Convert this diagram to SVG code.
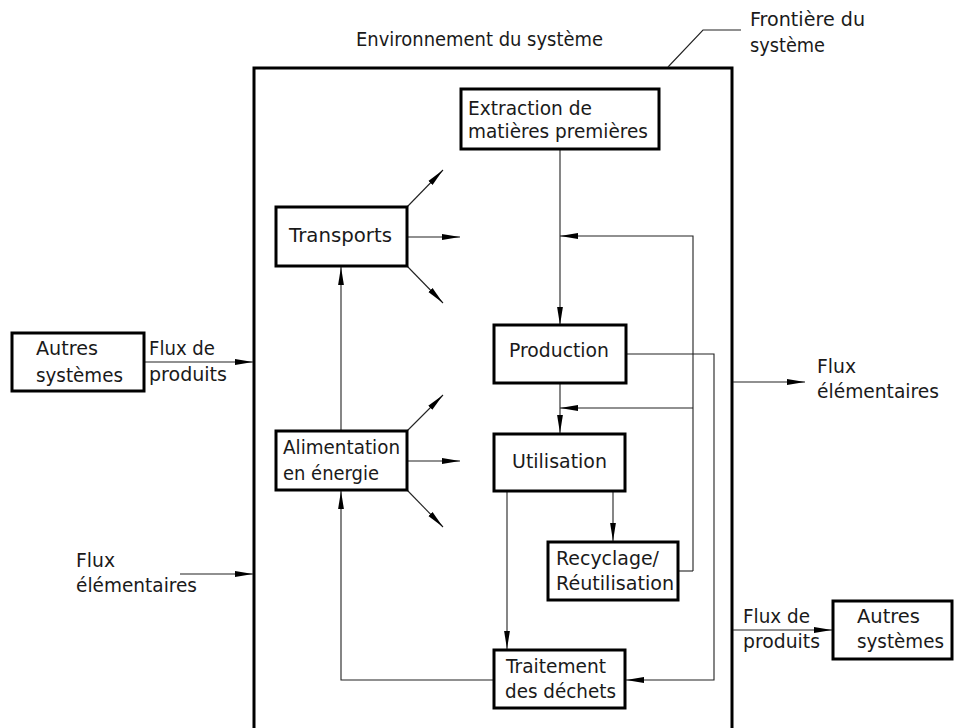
<svg xmlns="http://www.w3.org/2000/svg" width="954" height="728" viewBox="0 0 954 728">
<defs>
<marker id="ah" markerUnits="userSpaceOnUse" markerWidth="18" markerHeight="7" refX="18" refY="3.5" orient="auto">
<path d="M0,0.6 L18,3.5 L0,6.4 z" fill="#000"/>
</marker>
<style>
text{font-family:"DejaVu Sans","Liberation Sans",sans-serif;font-size:20px;fill:#1a1a1a}
.box{fill:#fff;stroke:#000;stroke-width:3}
.ln{fill:none;stroke:#222;stroke-width:1.1}
.ar{fill:none;stroke:#222;stroke-width:1.1;marker-end:url(#ah)}
</style>
</defs>
<rect width="954" height="728" fill="#fff"/>

<g id="boundary">
<rect x="254" y="68" width="478" height="680" fill="none" stroke="#000" stroke-width="3"/>
<polyline class="ln" points="668,67 703,30 741,30"/>
<text x="750" y="26" textLength="115" lengthAdjust="spacingAndGlyphs">Frontière du</text>
<text x="750" y="52" textLength="75" lengthAdjust="spacingAndGlyphs">système</text>
<text x="356" y="46" textLength="247" lengthAdjust="spacingAndGlyphs">Environnement du système</text>
</g>

<g id="connectors">
<line class="ar" x1="560" y1="149" x2="560" y2="325"/>
<polyline class="ar" points="693,571 693,236 560,236"/>
<line class="ar" x1="693" y1="408" x2="560" y2="408"/>
<line class="ar" x1="560" y1="383" x2="560" y2="433"/>
<line class="ar" x1="613" y1="491" x2="613" y2="541"/>
<line class="ln" x1="678" y1="571" x2="693" y2="571"/>
<line class="ar" x1="507" y1="491" x2="507" y2="649"/>
<polyline class="ar" points="626,354 714,354 714,680 626,680"/>
<polyline class="ar" points="494,680 341,680 341,491"/>
<line class="ar" x1="341" y1="431" x2="341" y2="267"/>
<line class="ar" x1="407" y1="207" x2="443" y2="170"/>
<line class="ar" x1="407" y1="237" x2="460" y2="237"/>
<line class="ar" x1="407" y1="266" x2="443" y2="303"/>
<line class="ar" x1="407" y1="431" x2="443" y2="395"/>
<line class="ar" x1="407" y1="461" x2="460" y2="461"/>
<line class="ar" x1="407" y1="490" x2="443" y2="527"/>
<line class="ar" x1="144" y1="362" x2="253" y2="362"/>
<line class="ar" x1="180" y1="574" x2="253" y2="574"/>
<line class="ar" x1="733" y1="382" x2="805" y2="382"/>
<line class="ar" x1="733" y1="630" x2="832" y2="630"/>
</g>

<g id="extraction">
<rect class="box" x="461" y="89" width="198" height="60"/>
<text x="468" y="115" textLength="124" lengthAdjust="spacingAndGlyphs">Extraction de</text>
<text x="468" y="138" textLength="180" lengthAdjust="spacingAndGlyphs">matières premières</text>
</g>
<g id="transports">
<rect class="box" x="276" y="207" width="131" height="59"/>
<text x="289" y="242" textLength="103" lengthAdjust="spacingAndGlyphs">Transports</text>
</g>
<g id="production">
<rect class="box" x="494" y="325" width="132" height="58"/>
<text x="509" y="357" textLength="100" lengthAdjust="spacingAndGlyphs">Production</text>
</g>
<g id="alimentation">
<rect class="box" x="276" y="431" width="131" height="59"/>
<text x="283" y="454" textLength="117" lengthAdjust="spacingAndGlyphs">Alimentation</text>
<text x="283" y="480" textLength="96" lengthAdjust="spacingAndGlyphs">en énergie</text>
</g>
<g id="utilisation">
<rect class="box" x="494" y="434" width="131" height="57"/>
<text x="512" y="468" textLength="95" lengthAdjust="spacingAndGlyphs">Utilisation</text>
</g>
<g id="recyclage">
<rect class="box" x="548" y="542" width="130" height="58"/>
<text x="556" y="565" textLength="103" lengthAdjust="spacingAndGlyphs">Recyclage/</text>
<text x="556" y="590" textLength="118" lengthAdjust="spacingAndGlyphs">Réutilisation</text>
</g>
<g id="traitement">
<rect class="box" x="494" y="650" width="131" height="58"/>
<text x="506" y="673" textLength="100" lengthAdjust="spacingAndGlyphs">Traitement</text>
<text x="505" y="698" textLength="111" lengthAdjust="spacingAndGlyphs">des déchets</text>
</g>
<g id="autres-gauche">
<rect class="box" x="12" y="333" width="132" height="58"/>
<text x="36" y="355" textLength="62" lengthAdjust="spacingAndGlyphs">Autres</text>
<text x="36" y="382" textLength="87" lengthAdjust="spacingAndGlyphs">systèmes</text>
</g>
<g id="autres-droite">
<rect class="box" x="833" y="601" width="119" height="58"/>
<text x="857" y="623" textLength="63" lengthAdjust="spacingAndGlyphs">Autres</text>
<text x="857" y="648" textLength="87" lengthAdjust="spacingAndGlyphs">systèmes</text>
</g>
<g id="labels">
<text x="149" y="355" textLength="66" lengthAdjust="spacingAndGlyphs">Flux de</text>
<text x="149" y="381" textLength="78" lengthAdjust="spacingAndGlyphs">produits</text>
<text x="76" y="567" textLength="39" lengthAdjust="spacingAndGlyphs">Flux</text>
<text x="76" y="592" textLength="121" lengthAdjust="spacingAndGlyphs">élémentaires</text>
<text x="817" y="373" textLength="39" lengthAdjust="spacingAndGlyphs">Flux</text>
<text x="817" y="398" textLength="122" lengthAdjust="spacingAndGlyphs">élémentaires</text>
<text x="743" y="623" textLength="67" lengthAdjust="spacingAndGlyphs">Flux de</text>
<text x="743" y="648" textLength="77" lengthAdjust="spacingAndGlyphs">produits</text>
</g>
</svg>
